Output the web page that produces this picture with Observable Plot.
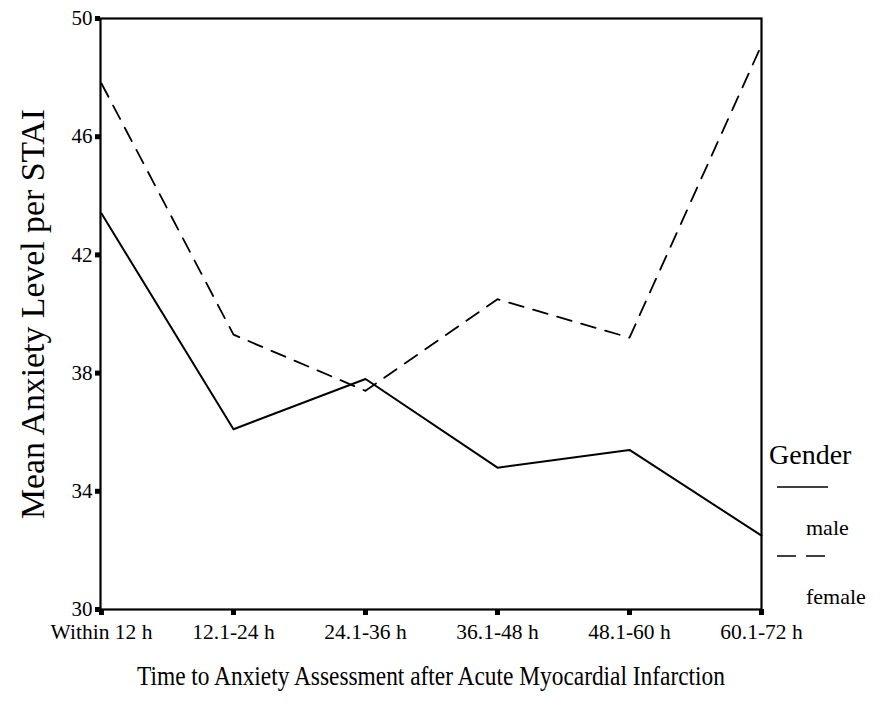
<!DOCTYPE html>
<html>
<head>
<meta charset="utf-8">
<script src="https://cdn.jsdelivr.net/npm/d3@7"></script>
<script src="https://cdn.jsdelivr.net/npm/@observablehq/plot@0.6"></script>
<style>
  html, body { margin: 0; padding: 0; background: #fff; }
  #wrap { position: relative; width: 885px; height: 723px; font-family: "Liberation Serif", "Times New Roman", serif; color: #000; }
  #legend { position: absolute; left: 0; top: 0; width: 885px; height: 723px; pointer-events: none; }
  #wrap g[aria-label="y-axis tick"] path, #wrap g[aria-label="x-axis tick"] path { stroke-width: 5px; }
</style>
</head>
<body>
<div id="wrap"></div>
<script>
const categories = ["Within 12 h", "12.1-24 h", "24.1-36 h", "36.1-48 h", "48.1-60 h", "60.1-72 h"];
const maleValues = [43.4, 36.1, 37.8, 34.8, 35.4, 32.5];
const femaleValues = [47.8, 39.3, 37.4, 40.5, 39.2, 49.1];
const yTicks = [30, 34, 38, 42, 46, 50];
const seriesNames = ["male", "female"];
const xTitle = "Time to Anxiety Assessment after Acute Myocardial Infarction";
const yTitle = "Mean Anxiety Level per STAI";
const legendTitle = "Gender";

const rows = [];
categories.forEach((c, i) => {
  rows.push({time: c, value: maleValues[i], gender: "male"});
  rows.push({time: c, value: femaleValues[i], gender: "female"});
});

const chart = Plot.plot({
  width: 885,
  height: 723,
  marginLeft: 100,
  marginRight: 124,
  marginTop: 18,
  marginBottom: 114,
  style: {fontFamily: "Liberation Serif, Times New Roman, serif", fontSize: "18px", background: "#fff", color: "#000"},
  x: {type: "point", domain: categories, padding: 0},
  y: {domain: [30, 50]},
  marks: [
    Plot.frame({stroke: "#000", strokeWidth: 2.2}),
    Plot.axisY({ticks: yTicks, tickSize: 5, strokeWidth: 5, tickPadding: 3, fontSize: 21, label: null, tickFormat: d => String(d)}),
    Plot.axisX({tickSize: 6, strokeWidth: 5, tickPadding: 8, fontSize: 21.5, label: null}),
    Plot.line(rows.filter(d => d.gender === "male"), {x: "time", y: "value", stroke: "#000", strokeWidth: 2}),
    Plot.line(rows.filter(d => d.gender === "female"), {x: "time", y: "value", stroke: "#000", strokeWidth: 1.8, strokeDasharray: "15,10"}),
    Plot.text([xTitle], {frameAnchor: "bottom", dy: 75, fontSize: 27, text: d => d, textAnchor: "middle"}),
    Plot.text([yTitle], {frameAnchor: "left", dx: -67, rotate: -90, fontSize: 33, text: d => d, textAnchor: "middle"})
  ]
});

const wrap = document.getElementById("wrap");
wrap.appendChild(chart);

// fit the long titles to the reference's measured lengths
chart.querySelectorAll("text").forEach(t => {
  if (t.textContent === xTitle) { t.setAttribute("textLength", 588); t.setAttribute("lengthAdjust", "spacingAndGlyphs"); }
  if (t.textContent === yTitle) { t.setAttribute("textLength", 410); t.setAttribute("lengthAdjust", "spacingAndGlyphs"); }
});

// legend overlay
const ns = "http://www.w3.org/2000/svg";
const leg = document.createElementNS(ns, "svg");
leg.setAttribute("id", "legend");
leg.setAttribute("width", 885);
leg.setAttribute("height", 723);
leg.style.fontFamily = "Liberation Serif, Times New Roman, serif";
function txt(x, y, s, size) {
  const t = document.createElementNS(ns, "text");
  t.setAttribute("x", x); t.setAttribute("y", y);
  t.setAttribute("font-size", size);
  t.setAttribute("fill", "#000");
  t.textContent = s;
  leg.appendChild(t);
}
function seg(x1, x2, y, dash) {
  const l = document.createElementNS(ns, "line");
  l.setAttribute("x1", x1); l.setAttribute("x2", x2);
  l.setAttribute("y1", y); l.setAttribute("y2", y);
  l.setAttribute("stroke", "#000");
  l.setAttribute("stroke-width", 1.6);
  if (dash) l.setAttribute("stroke-dasharray", dash);
  leg.appendChild(l);
}
txt(769, 464, legendTitle, 28);
seg(777, 828, 487, null);
txt(806, 535, seriesNames[0], 22);
seg(777, 828, 556, "19,10");
txt(806, 604, seriesNames[1], 22);
wrap.appendChild(leg);
</script>
</body>
</html>
